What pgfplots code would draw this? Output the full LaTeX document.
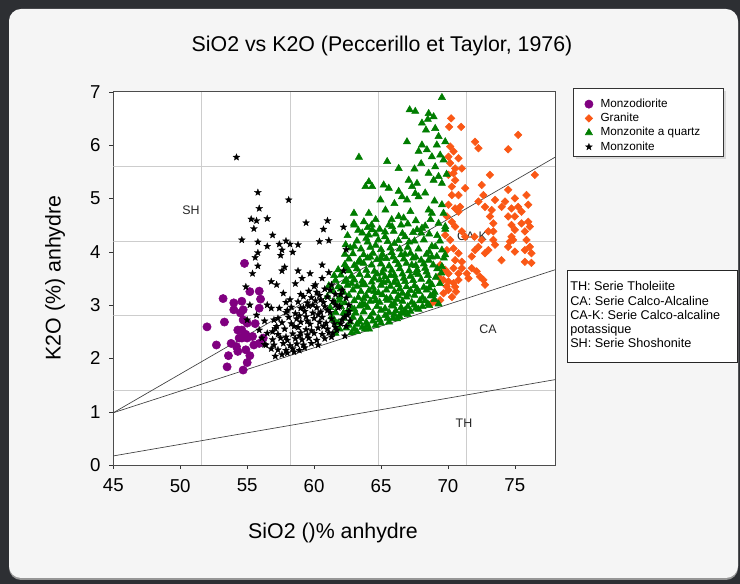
\documentclass[border=0pt]{standalone}
\usepackage{pgfplots}
\usepackage{pgfplotstable}
\pgfplotsset{compat=1.18}
\usepackage{fontspec}
\setmainfont{Liberation Sans}

\definecolor{panelbg}{RGB}{45,47,51}
\definecolor{panelshadow}{RGB}{150,150,150}
\definecolor{panelfill}{RGB}{245,245,245}
\definecolor{cmonzodiorite}{RGB}{128,0,128}
\definecolor{cgranite}{RGB}{250,88,22}
\definecolor{cmzq}{RGB}{0,125,0}
\definecolor{gridgray}{RGB}{205,205,205}

% key entry: one mark centred in a fixed-width cell
\pgfplotsset{keyimage/.style={legend image code/.code={%
  \path[draw=none, fill=none] (0pt,-2pt) rectangle (15.5pt,2pt);
  \draw[##1] plot coordinates {(7.75pt,0pt)};}}}

% filled five-pointed star
\pgfdeclareplotmark{fstar}{%
  \pgfpathmoveto{\pgfpointpolar{90}{\pgfplotmarksize}}%
  \pgfpathlineto{\pgfpointpolar{126}{0.42\pgfplotmarksize}}%
  \pgfpathlineto{\pgfpointpolar{162}{\pgfplotmarksize}}%
  \pgfpathlineto{\pgfpointpolar{198}{0.42\pgfplotmarksize}}%
  \pgfpathlineto{\pgfpointpolar{234}{\pgfplotmarksize}}%
  \pgfpathlineto{\pgfpointpolar{270}{0.42\pgfplotmarksize}}%
  \pgfpathlineto{\pgfpointpolar{306}{\pgfplotmarksize}}%
  \pgfpathlineto{\pgfpointpolar{342}{0.42\pgfplotmarksize}}%
  \pgfpathlineto{\pgfpointpolar{18}{\pgfplotmarksize}}%
  \pgfpathlineto{\pgfpointpolar{54}{0.42\pgfplotmarksize}}%
  \pgfpathclose\pgfusepathqfillstroke}

% SiO2 / K2O analyses (wt%, anhydrous)
\pgfplotstableread{
x y
52.0 2.59
52.7 2.25
53.2 3.12
53.3 2.68
53.5 1.84
53.8 2.28
54.0 2.91
54.0 3.04
54.2 2.22
54.3 2.13
54.3 2.53
54.5 2.85
54.6 3.07
54.6 2.38
54.6 2.53
54.7 1.78
54.7 2.72
54.7 2.91
54.8 3.78
54.9 2.16
55.0 2.38
55.0 1.92
55.0 2.66
55.2 3.25
55.4 2.41
55.5 2.25
55.9 3.26
55.9 2.94
55.9 2.28
56.0 3.11
54.4 2.38
54.9 2.45
53.6 2.05
55.2 2.05
56.2 2.38
55.6 2.65
}\monzodiorite

\pgfplotstableread{
x y
70.24 6.50
70.99 6.34
70.09 6.34
72.03 6.06
72.28 5.94
75.25 6.19
74.50 5.92
70.17 5.97
70.42 5.88
70.04 5.78
70.79 5.75
70.17 5.66
70.54 5.56
71.04 5.56
70.04 5.44
70.42 5.47
76.49 5.44
70.54 5.34
70.29 5.22
71.29 5.19
72.52 5.25
73.14 5.44
70.29 5.06
70.79 5.06
72.65 5.06
72.28 4.94
73.52 4.97
74.02 4.84
74.27 4.94
74.50 5.16
75.00 5.00
75.25 4.84
75.50 4.75
75.87 5.06
76.00 4.88
70.04 4.88
70.54 4.81
70.91 4.84
70.79 4.75
72.77 4.84
73.27 4.78
73.14 4.66
74.75 4.81
75.00 4.66
69.92 4.66
70.29 4.56
74.50 4.66
74.75 4.50
75.50 4.53
76.00 4.56
76.12 4.47
75.75 4.38
75.00 4.41
74.75 4.28
73.39 4.53
73.02 4.38
73.39 4.38
70.54 4.47
71.04 4.38
71.29 4.28
69.80 4.31
70.17 4.22
71.99 4.28
72.52 4.22
73.39 4.22
73.52 4.13
74.63 4.19
74.87 4.22
74.50 4.09
75.87 4.22
76.12 4.09
75.75 4.03
76.24 3.97
75.00 4.00
75.75 3.81
76.24 3.79
74.00 3.84
69.92 4.03
70.42 4.06
70.79 3.97
70.54 3.84
71.04 3.81
72.03 4.03
72.28 4.09
71.78 3.91
72.77 3.97
73.02 4.03
69.42 3.75
69.80 3.66
70.04 3.59
70.42 3.69
70.79 3.59
71.04 3.69
69.30 3.53
69.67 3.47
70.04 3.44
70.42 3.41
70.79 3.47
70.54 3.34
70.04 3.28
69.67 3.22
69.42 3.09
69.05 3.06
71.78 3.69
72.15 3.63
72.40 3.53
72.65 3.47
72.77 3.38
71.54 3.50
71.41 3.59
68.80 3.04
70.30 3.15
69.90 3.35
70.60 3.25
}\granite

\pgfplotstableread{
x y
69.55 6.89
67.14 6.66
67.56 6.63
68.56 6.59
68.93 6.53
68.50 6.48
68.06 6.41
68.36 6.28
69.05 6.31
66.94 6.06
69.30 6.16
69.17 6.00
69.80 6.06
68.06 6.00
67.81 5.88
68.43 5.91
68.80 5.78
69.42 5.81
69.67 5.72
69.05 5.59
63.35 5.77
65.46 5.69
66.32 5.56
64.09 5.31
63.84 5.22
64.34 5.22
65.20 5.25
65.58 5.19
67.07 5.34
67.32 5.22
67.69 5.28
68.93 5.34
69.30 5.41
69.55 5.28
68.56 5.47
62.98 4.72
62.98 4.53
63.72 4.56
64.09 4.72
64.96 4.97
65.33 4.78
66.32 5.13
66.57 5.03
66.94 4.97
67.56 5.09
67.81 5.03
68.56 4.78
68.80 4.72
69.55 4.88
69.67 4.72
66.32 4.66
66.69 4.63
65.83 4.47
65.95 4.38
64.34 4.41
64.09 4.31
62.36 4.13
67.69 4.41
68.06 4.44
69.30 4.53
69.80 4.47
69.05 4.09
69.55 4.03
68.56 3.84
69.17 3.91
69.80 3.94
69.55 3.72
68.00 5.65
67.50 5.55
69.90 5.45
68.30 5.10
69.00 4.95
67.20 4.75
66.00 4.90
64.60 4.60
62.80 2.48
63.20 2.50
63.80 2.55
62.40 2.57
63.00 2.55
63.60 2.58
64.10 2.55
64.60 2.62
61.80 2.66
62.70 2.68
63.20 2.64
63.90 2.67
64.40 2.70
65.00 2.66
65.60 2.68
61.30 2.78
62.20 2.75
62.90 2.77
63.50 2.74
64.20 2.78
64.80 2.76
65.30 2.80
65.90 2.75
66.40 2.78
61.60 2.86
62.50 2.88
63.10 2.85
63.70 2.87
64.40 2.85
65.00 2.90
65.60 2.86
66.10 2.89
66.70 2.85
67.20 2.88
61.20 2.95
62.00 2.97
62.80 2.94
63.40 2.98
64.00 2.95
64.70 2.97
65.30 2.93
65.90 2.98
66.50 2.95
67.00 2.97
67.60 2.94
68.10 2.97
61.50 3.06
62.30 3.04
63.00 3.08
63.60 3.03
64.20 3.07
64.90 3.05
65.50 3.09
66.00 3.03
66.60 3.07
67.30 3.05
67.90 3.08
68.50 3.02
69.00 3.10
61.00 3.16
61.90 3.15
62.60 3.18
63.30 3.14
63.90 3.17
64.50 3.15
65.10 3.19
65.70 3.13
66.30 3.17
66.90 3.15
67.50 3.18
68.10 3.14
68.70 3.17
61.40 3.26
62.20 3.24
62.90 3.28
63.50 3.25
64.10 3.27
64.80 3.23
65.40 3.28
66.00 3.25
66.60 3.22
67.20 3.27
67.80 3.25
68.40 3.28
69.00 3.24
61.10 3.36
61.80 3.34
62.50 3.37
63.20 3.35
63.80 3.38
64.40 3.33
65.00 3.37
65.70 3.35
66.30 3.38
66.90 3.34
67.50 3.36
68.20 3.33
68.80 3.38
61.60 3.46
62.30 3.44
63.00 3.47
63.60 3.45
64.30 3.43
64.90 3.47
65.50 3.45
66.10 3.48
66.80 3.44
67.40 3.46
68.00 3.48
68.60 3.44
62.00 3.56
62.80 3.54
63.40 3.57
64.00 3.55
64.70 3.58
65.30 3.53
66.00 3.56
66.60 3.58
67.20 3.54
67.80 3.57
68.50 3.55
69.10 3.52
61.80 3.66
62.60 3.64
63.20 3.68
63.90 3.65
64.50 3.63
65.20 3.67
65.80 3.65
66.40 3.68
67.10 3.64
67.70 3.66
68.30 3.69
62.30 3.76
63.00 3.74
63.70 3.78
64.30 3.75
65.00 3.77
65.60 3.73
66.30 3.76
66.90 3.78
67.60 3.74
68.20 3.77
68.90 3.75
62.60 3.86
63.40 3.84
64.00 3.88
64.70 3.85
65.40 3.87
66.10 3.83
66.70 3.86
67.40 3.88
68.00 3.84
62.90 3.96
63.70 3.94
64.40 3.97
65.10 3.95
65.80 3.98
66.50 3.94
67.20 3.97
68.40 3.95
62.70 4.07
63.50 4.05
64.20 4.08
65.00 4.04
65.70 4.07
66.40 4.05
67.00 4.08
67.80 4.05
68.80 4.10
63.20 4.20
64.00 4.18
64.80 4.22
65.50 4.19
66.30 4.21
67.10 4.18
68.20 4.22
63.60 4.35
64.60 4.33
65.30 4.37
66.60 4.34
67.40 4.36
68.60 4.33
63.00 4.50
64.30 4.50
65.60 4.50
67.00 4.52
68.30 4.48
61.50 2.72
61.60 2.47
61.90 3.09
62.40 3.47
66.20 2.74
67.00 2.82
67.80 2.92
68.60 2.99
69.30 3.02
69.50 3.60
69.70 3.88
69.40 4.20
69.80 4.42
61.90 2.55
62.60 2.62
63.40 2.68
64.00 2.62
64.90 2.72
65.50 2.75
66.00 2.82
66.80 2.90
67.50 3.00
68.30 3.08
68.90 3.20
62.20 2.85
63.00 2.92
63.80 3.00
64.60 3.08
65.40 3.12
66.20 3.10
67.00 3.20
67.70 3.30
68.60 3.32
62.00 3.30
62.80 3.40
63.60 3.38
64.50 3.50
65.20 3.42
66.00 3.42
66.70 3.50
67.60 3.60
68.40 3.62
69.20 3.68
61.50 3.55
62.40 3.70
63.30 3.80
64.20 3.90
65.00 3.88
65.90 3.90
66.80 3.95
67.60 3.90
68.60 4.00
62.30 3.95
63.00 4.10
63.90 4.25
64.60 4.12
65.30 4.28
66.00 4.15
66.80 4.28
67.50 4.20
68.00 4.35
62.50 4.30
63.30 4.40
64.00 4.45
64.90 4.42
65.80 4.60
66.50 4.50
67.60 4.58
68.70 4.60
69.20 4.30
64.50 3.25
65.80 3.00
66.40 3.30
65.10 3.60
63.70 3.12
67.30 3.75
68.80 3.90
69.40 3.40
66.50 2.85
65.70 3.55
}\monzoniteqz

\pgfplotstableread{
x y
54.2 5.77
55.8 5.11
58.1 4.97
55.9 4.81
55.3 4.61
55.7 4.58
56.5 4.62
55.5 4.43
59.4 4.54
61.0 4.58
60.7 4.42
62.2 4.46
56.9 4.31
54.6 4.22
55.8 4.18
56.5 4.10
57.4 4.14
57.9 4.20
58.2 4.14
58.8 4.13
60.4 4.19
61.1 4.21
57.6 4.03
58.4 3.99
55.8 3.98
55.6 3.89
57.5 3.93
55.8 3.73
55.4 3.59
57.8 3.71
57.6 3.64
58.8 3.64
60.6 3.75
61.1 3.61
54.9 3.34
56.8 3.44
57.2 3.38
58.6 3.40
59.1 3.50
59.7 3.59
60.1 3.38
60.6 3.50
57.7 3.22
62.4 4.04
62.2 3.64
55.0 2.72
55.2 3.00
55.7 2.81
55.9 2.53
56.4 2.25
56.5 3.00
56.8 2.94
57.4 2.94
57.0 2.72
61.3 3.38
62.1 3.28
62.4 3.13
62.6 3.00
61.9 2.97
62.5 2.81
62.1 2.72
61.7 2.53
61.4 2.47
57.1 2.04
57.6 2.07
58.0 2.10
58.5 2.12
56.8 2.18
57.3 2.16
57.9 2.15
58.4 2.18
58.9 2.15
59.3 2.20
56.3 2.26
57.0 2.25
57.7 2.28
58.2 2.24
58.7 2.27
59.2 2.25
59.8 2.28
60.3 2.25
56.1 2.38
56.9 2.35
57.5 2.38
58.0 2.34
58.6 2.37
59.1 2.35
59.6 2.38
60.2 2.34
60.8 2.37
61.3 2.40
56.5 2.47
57.3 2.45
58.4 2.46
59.0 2.48
59.5 2.44
60.0 2.47
60.6 2.45
61.1 2.48
62.3 2.42
57.1 2.56
57.8 2.55
58.8 2.58
59.4 2.54
60.3 2.57
61.0 2.55
61.6 2.58
62.4 2.60
57.6 2.67
58.3 2.65
59.0 2.68
59.7 2.64
60.4 2.68
60.9 2.66
62.0 2.65
62.7 2.70
57.3 2.75
58.1 2.77
58.7 2.74
59.4 2.78
60.0 2.75
60.6 2.77
61.3 2.74
62.3 2.78
57.9 2.86
58.6 2.84
59.3 2.88
59.9 2.85
60.5 2.87
61.2 2.86
62.6 2.88
58.3 2.96
59.0 2.94
59.6 2.98
60.2 2.95
60.8 2.97
61.8 2.95
58.8 3.06
59.5 3.04
60.1 3.08
60.7 3.05
61.4 3.07
59.2 3.16
59.8 3.14
60.4 3.18
61.0 3.15
62.0 3.20
59.6 3.26
60.2 3.24
61.2 3.28
57.9 2.40
58.9 2.42
59.8 2.52
60.7 2.60
61.5 2.65
58.5 2.60
59.5 2.70
60.3 2.82
61.0 2.90
61.6 3.00
58.0 2.90
58.9 2.80
59.9 3.00
60.5 3.10
61.6 3.20
59.0 3.20
60.0 3.35
60.8 3.30
57.2 2.60
56.9 2.50
59.2 2.95
57.9 3.05
56.3 2.70
58.2 3.10
}\monzonite

% Peccerillo & Taylor (1976) series boundaries
\pgfplotstableread{
x y
45 0.98
78 5.77
}\lineSHCAK
\pgfplotstableread{
x y
45 0.98
78 3.66
}\lineCAKCA
\pgfplotstableread{
x y
45 0.17
78 1.60
}\lineCATH

\begin{document}
\begin{tikzpicture}
  % window background and panel
  \fill[panelbg] (0pt,0pt) rectangle (555pt,438pt);
  \fill[panelshadow, rounded corners=9pt] (6.75pt,3pt) rectangle (553.5pt,430pt);
  \fill[panelfill, rounded corners=9pt] (6.75pt,4.5pt) rectangle (553.5pt,431.25pt);
  \path[use as bounding box] (0pt,0pt) rectangle (555pt,438pt);

  % legend frame (entries are set by the axis on top of it)
  \fill[black!15] (431.75pt,319pt) rectangle (544.25pt,370pt);
  \draw[black!80, fill=white, line width=0.6pt] (429.75pt,321pt) rectangle (542.25pt,372pt);

  \begin{axis}[
    at={(85pt,89.25pt)}, anchor=south west,
    width=331.25pt, height=280pt, scale only axis,
    xmin=45, xmax=78, ymin=0, ymax=7,
    axis background/.style={fill=white},
    xtick={45,50,...,75}, ytick={0,1,...,7},
    tick align=outside, major tick length=3pt,
    tick style={black!80},
    xtick pos=bottom, ytick pos=left,
    axis line style={black!70},
    /pgf/number format/assume math mode=true,
    tick label style={font=\fontsize{14}{16}\selectfont},
    xticklabel style={yshift=-4pt},
    yticklabel style={xshift=-3pt},
    title={SiO2 vs K2O (Peccerillo et Taylor, 1976)},
    title style={at={(0.6083,1.101)}, anchor=center, font=\fontsize{16}{18}\selectfont},
    xlabel={SiO2 ()\% anhydre},
    xlabel style={at={(0.4974,-0.181)}, anchor=center, font=\fontsize{16}{18}\selectfont},
    ylabel={K2O (\%) anhydre},
    ylabel style={at={(-0.1321,0.5009)}, anchor=center, font=\fontsize{16}{18}\selectfont},
    legend style={at={(1.0528,0.9857)}, anchor=north west, draw=none, fill=none,
      font=\fontsize{8.8}{10}\selectfont, inner sep=0pt, row sep=0.4pt,
      nodes={inner sep=1pt, text height=6.5pt, text depth=1.8pt}},
    legend cell align=left,
  ]
    % background grid dividing the frame in fifths
    \addplot[gridgray, line width=0.6pt, forget plot] coordinates {(51.6,0) (51.6,7)};
    \addplot[gridgray, line width=0.6pt, forget plot] coordinates {(58.2,0) (58.2,7)};
    \addplot[gridgray, line width=0.6pt, forget plot] coordinates {(64.8,0) (64.8,7)};
    \addplot[gridgray, line width=0.6pt, forget plot] coordinates {(71.4,0) (71.4,7)};
    \addplot[gridgray, line width=0.6pt, forget plot] coordinates {(45,1.4) (78,1.4)};
    \addplot[gridgray, line width=0.6pt, forget plot] coordinates {(45,2.8) (78,2.8)};
    \addplot[gridgray, line width=0.6pt, forget plot] coordinates {(45,4.2) (78,4.2)};
    \addplot[gridgray, line width=0.6pt, forget plot] coordinates {(45,5.6) (78,5.6)};

    \addplot[only marks, keyimage, mark=*, mark size=3.1pt, draw=cmonzodiorite, fill=cmonzodiorite] table {\monzodiorite};
    \addlegendentry{Monzodiorite}
    \addplot[only marks, keyimage, mark=square*, mark size=2pt, mark options={rotate=45}, draw=cgranite, fill=cgranite] table {\granite};
    \addlegendentry{Granite}
    \addplot[only marks, keyimage, mark=triangle*, mark size=3.1pt, draw=cmzq, fill=cmzq] table {\monzoniteqz};
    \addlegendentry{Monzonite a quartz}
    \addplot[only marks, keyimage, mark=fstar, mark size=2.7pt, draw=black, fill=black, line width=0.2pt] table {\monzonite};
    \addlegendentry{Monzonite}

    \addplot[black!75, line width=0.5pt, forget plot] table {\lineSHCAK};
    \addplot[black!75, line width=0.5pt, forget plot] table {\lineCAKCA};
    \addplot[black!75, line width=0.5pt, forget plot] table {\lineCATH};

    \node[font=\fontsize{9.3}{11}\selectfont, text=black!85] at (axis cs:50.8,4.78) {SH};
    \node[font=\fontsize{9.3}{11}\selectfont, text=black!85] at (axis cs:71.8,4.29) {CA-K};
    \node[font=\fontsize{9.3}{11}\selectfont, text=black!85] at (axis cs:73.0,2.55) {CA};
    \node[font=\fontsize{9.3}{11}\selectfont, text=black!85] at (axis cs:71.2,0.78) {TH};
  \end{axis}

  % series key
  \draw[black!85, fill=white, line width=0.6pt] (425.25pt,166.5pt) rectangle (552.75pt,235.5pt);
  \node[anchor=north west, inner sep=0pt, align=left, font=\fontsize{9.5}{10.7}\selectfont]
    at (427.5pt,227pt) {TH: Serie Tholeiite\\CA: Serie Calco-Alcaline\\CA-K: Serie Calco-alcaline\\potassique\\SH: Serie Shoshonite};
\end{tikzpicture}
\end{document}
